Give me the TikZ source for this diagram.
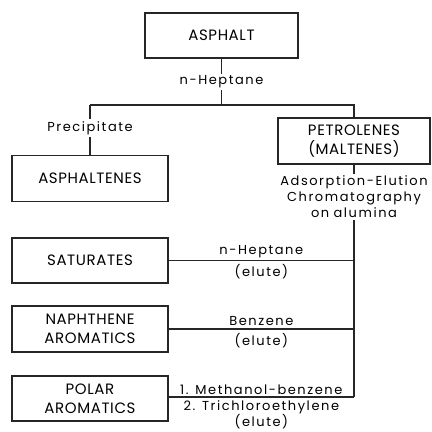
\documentclass[tikz,border=0pt]{standalone}
\usepackage{fontspec}
\setmainfont{Poppins}
\newfontfamily\boxfont[LetterSpace=4]{Poppins}
\newfontfamily\stepfont[LetterSpace=12]{Poppins}
\begin{document}
\begin{tikzpicture}[x=1pt,y=-1pt]
	\tikzstyle{fraction}=[draw=black!85,line width=1.3pt,minimum width=156pt,minimum height=46pt,align=center,inner sep=0pt,font=\boxfont\fontsize{15}{19}\selectfont]
	\tikzstyle{solvent}=[align=center,inner sep=2pt,font=\stepfont\fontsize{13}{16}\selectfont]
	\tikzstyle{edge}=[draw=black!85,line width=1.2pt]
	\useasboundingbox (0,0) rectangle (432,432);
	% feed and first split
	\node [fraction,minimum width=153pt,minimum height=45pt] (asphalt) at (221.5,35.5) {ASPHALT};
	\node [solvent] (hep) at (221.5,82) {n-Heptane};
	\node [solvent] (prec) at (90,128) {Precipitate};
	\node [fraction] (asphaltenes) at (90,178.5) {ASPHALTENES};
	\node [fraction,minimum width=152pt] (petrolenes) at (354,141) {PETROLENES\\(MALTENES)};
	\coordinate (split) at (221.5,105);
	\path[edge] (asphalt) -- (hep);
	\path[edge] (hep) -- (split);
	\path[edge] (prec.north |- split) -- (petrolenes.north |- split) -- (petrolenes.north);
	\path[edge] (prec.north |- split) -- (prec);
	\path[edge] (prec) -- (asphaltenes);
	% chromatography
	\node [solvent,text width=170pt] (ads) at (354,197) {Adsorption-Elution\\Chromatography\\on alumina};
	\node [fraction,minimum height=45pt] (s1) at (90,260.5) {SATURATES};
	\node [fraction] (s2) at (90,329) {NAPHTHENE\\AROMATICS};
	\node [fraction,minimum height=45pt] (s3) at (90,398.5) {POLAR\\AROMATICS};
	\coordinate (c1) at (354,260.5);
	\coordinate (c2) at (354,329);
	\coordinate (c3) at (354,397);
	\path[edge] (petrolenes) -- (ads);
	\path[edge] (ads) -- (c3);
	\path[edge] (s1) -- node[solvent,above] {n-Heptane} node[solvent,below,inner sep=3pt] {(elute)} (c1);
	\path[edge] (s2) -- node[solvent,above,inner sep=3pt] {Benzene} node[solvent,below,inner sep=4pt] {(elute)} (c2);
	\path[edge] (s3.east |- c3) -- node[solvent,above] {1. Methanol-benzene} node[solvent,below,inner sep=3pt] {2. Trichloroethylene\\(elute)} (c3);
\end{tikzpicture}
\end{document}
